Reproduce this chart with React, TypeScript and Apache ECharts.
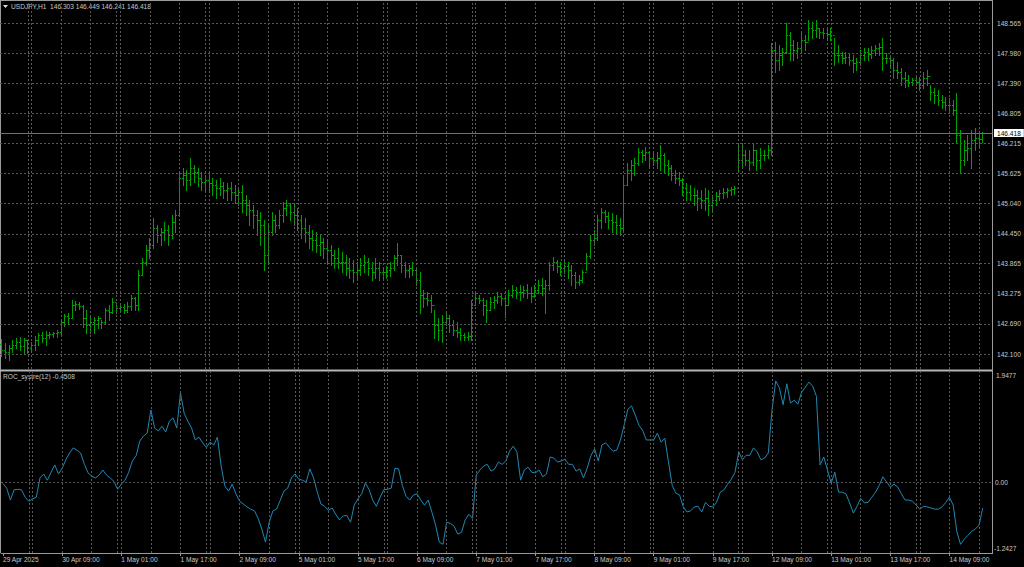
import React, { useEffect, useRef } from "react";
import * as echarts from "echarts";

// ---- data ----
const symbolTitle = "USDJPY,H1";
const indicatorTitle = "ROC_systre(12)";
const tickLabels = [
  "29 Apr 2025", "30 Apr 09:00", "1 May 01:00", "1 May 17:00", "2 May 09:00", "5 May 01:00",
  "5 May 17:00", "6 May 09:00", "7 May 01:00", "7 May 17:00", "8 May 09:00", "9 May 01:00",
  "9 May 17:00", "12 May 09:00", "13 May 01:00", "13 May 17:00", "14 May 09:00",
];
const barsPerLabel = 16;
const totalSlots = 268;
const priceTicks = [148.565, 147.98, 147.39, 146.805, 146.215, 145.625, 145.04, 144.45, 143.865, 143.275, 142.69, 142.1];
const priceRange = [141.807, 148.981];
const rocRange = [-1.2427, 1.9477];
const vGridBars = [7, 8, 16, 24, 31, 32, 40, 48, 55, 56, 64, 72, 79, 80, 88, 96, 103, 104, 112, 120, 127, 128, 136, 144, 151, 152, 160, 168, 175, 176, 184, 192, 199, 200, 208, 216, 223, 224, 232, 240, 247, 248, 256, 264];
const firstOpen = 142.3;

const highs = [
  142.39, 142.31, 142.28, 142.37, 142.41, 142.43, 142.41, 142.37, 142.33, 142.45,
  142.51, 142.53, 142.55, 142.53, 142.53, 142.57, 142.76, 142.88, 142.9, 143.16,
  143.14, 143.12, 143.06, 142.96, 142.86, 142.82, 142.84, 142.76, 143.0, 143.06,
  143.19, 143.06, 143.1, 143.08, 143.12, 143.25, 143.21, 143.74, 143.98, 144.23,
  144.37, 144.76, 144.62, 144.56, 144.68, 144.62, 144.82, 144.92, 145.66, 145.74,
  145.7, 145.93, 145.79, 145.74, 145.66, 145.6, 145.66, 145.54, 145.5, 145.54,
  145.46, 145.44, 145.46, 145.4, 145.35, 145.4, 145.21, 145.11, 145.01, 144.92,
  144.88, 144.72, 144.62, 144.88, 144.82, 144.92, 145.07, 145.11, 145.05, 145.01,
  144.95, 144.82, 144.76, 144.62, 144.52, 144.48, 144.43, 144.37, 144.33, 144.23,
  144.13, 144.17, 144.09, 144.04, 143.98, 143.94, 143.9, 143.98, 144.04, 143.98,
  143.9, 143.98, 143.9, 143.78, 143.82, 143.9, 144.04, 144.27, 144.04, 143.9,
  143.84, 143.9, 143.78, 143.7, 143.35, 143.31, 143.25, 142.96, 142.8, 142.86,
  142.92, 142.86, 142.76, 142.73, 142.61, 142.51, 142.53, 143.16, 143.29, 143.25,
  143.19, 143.16, 143.21, 143.23, 143.31, 143.29, 143.25, 143.35, 143.45, 143.41,
  143.45, 143.43, 143.47, 143.41, 143.45, 143.55, 143.59, 143.55, 143.9, 144.0,
  143.94, 143.9, 143.94, 143.9, 143.84, 143.7, 143.64, 143.74, 144.07, 144.43,
  144.52, 144.82, 144.95, 144.92, 144.88, 144.86, 144.82, 144.76, 145.56, 145.83,
  145.89, 145.93, 146.13, 146.09, 146.15, 146.05, 146.03, 146.05, 146.19, 146.03,
  145.89, 145.79, 145.7, 145.66, 145.54, 145.44, 145.4, 145.35, 145.31, 145.31,
  145.35, 145.31, 145.21, 145.27, 145.31, 145.35, 145.35, 145.36, 145.38, 146.22,
  146.19, 146.09, 146.09, 146.22, 146.09, 146.13, 146.09, 146.19, 148.18, 148.2,
  148.14, 148.08, 148.57, 148.39, 148.24, 148.2, 148.38, 148.34, 148.63, 148.59,
  148.63, 148.47, 148.47, 148.47, 148.47, 148.28, 148.14, 148.0, 148.0, 147.98,
  147.95, 147.89, 148.04, 148.08, 148.08, 148.12, 148.14, 148.18, 148.28, 147.98,
  147.95, 147.89, 147.81, 147.69, 147.61, 147.55, 147.5, 147.52, 147.52, 147.61,
  147.65, 147.36, 147.3, 147.26, 147.16, 147.12, 147.1, 147.07, 147.2, 146.48,
  146.28, 146.38, 146.48, 146.52, 146.44, 146.449,
];
const lows = [
  142.06, 142.02, 141.98, 142.14, 142.22, 142.18, 142.12, 142.12, 142.14, 142.18,
  142.28, 142.33, 142.28, 142.41, 142.43, 142.43, 142.47, 142.65, 142.71, 142.8,
  142.96, 142.98, 142.63, 142.51, 142.51, 142.51, 142.61, 142.61, 142.71, 142.76,
  142.9, 142.9, 142.92, 142.9, 142.92, 142.96, 142.96, 142.96, 143.64, 143.84,
  143.98, 144.17, 144.29, 144.23, 144.33, 144.23, 144.37, 144.48, 144.82, 145.4,
  145.31, 145.4, 145.46, 145.38, 145.31, 145.27, 145.31, 145.21, 145.15, 145.21,
  145.15, 145.11, 145.11, 145.05, 145.01, 144.88, 144.82, 144.62, 144.56, 144.43,
  144.23, 143.74, 143.9, 144.43, 144.48, 144.56, 144.68, 144.82, 144.72, 144.62,
  144.52, 144.37, 144.29, 144.17, 144.13, 144.09, 144.04, 143.98, 143.9, 143.84,
  143.78, 143.78, 143.7, 143.64, 143.59, 143.51, 143.55, 143.64, 143.7, 143.64,
  143.55, 143.59, 143.55, 143.55, 143.59, 143.62, 143.74, 143.84, 143.7, 143.61,
  143.61, 143.64, 143.45, 142.9, 143.02, 143.06, 142.92, 142.41, 142.37, 142.33,
  142.67, 142.53, 142.47, 142.43, 142.37, 142.37, 142.37, 142.37, 143.06, 143.1,
  142.86, 142.73, 142.96, 143.0, 143.1, 143.06, 142.82, 143.06, 143.21, 143.19,
  143.16, 143.21, 143.19, 143.12, 143.21, 143.29, 143.25, 142.9, 143.35, 143.74,
  143.7, 143.64, 143.68, 143.59, 143.45, 143.39, 143.45, 143.51, 143.74, 143.98,
  144.23, 144.33, 144.56, 144.68, 144.56, 144.48, 144.45, 144.43, 144.52, 145.4,
  145.5, 145.6, 145.79, 145.85, 145.89, 145.76, 145.79, 145.74, 145.7, 145.66,
  145.6, 145.5, 145.44, 145.4, 145.21, 145.11, 145.11, 145.01, 144.92, 144.95,
  144.92, 144.82, 144.92, 145.01, 145.11, 145.15, 145.17, 145.21, 145.23, 145.7,
  145.74, 145.79, 145.7, 145.79, 145.7, 145.74, 145.89, 145.93, 145.99, 147.61,
  147.65, 147.75, 147.98, 147.85, 147.85, 147.89, 147.98, 148.04, 148.24, 148.28,
  148.3, 148.28, 148.28, 148.28, 148.24, 147.75, 147.81, 147.79, 147.79, 147.75,
  147.61, 147.65, 147.75, 147.85, 147.85, 147.89, 147.95, 147.95, 147.65, 147.79,
  147.73, 147.5, 147.5, 147.36, 147.32, 147.34, 147.36, 147.36, 147.26, 147.3,
  147.36, 147.07, 147.01, 146.97, 146.91, 146.87, 146.83, 146.77, 146.24, 145.64,
  145.79, 145.89, 145.74, 146.09, 146.13, 146.241,
];
const closes = [
  142.18, 142.14, 142.22, 142.28, 142.33, 142.26, 142.37, 142.22, 142.28, 142.37,
  142.47, 142.41, 142.47, 142.49, 142.51, 142.53, 142.73, 142.84, 142.8, 143.06,
  143.08, 143.04, 142.8, 142.67, 142.73, 142.76, 142.8, 142.73, 142.96, 142.92,
  143.12, 143.0, 143.02, 142.96, 143.04, 143.19, 143.06, 143.64, 143.9, 144.13,
  144.23, 144.56, 144.43, 144.48, 144.52, 144.43, 144.68, 144.82, 145.54, 145.6,
  145.5, 145.74, 145.66, 145.54, 145.46, 145.5, 145.44, 145.4, 145.35, 145.38,
  145.31, 145.35, 145.27, 145.21, 145.27, 145.11, 145.01, 144.92, 144.82, 144.72,
  144.62, 144.04, 144.48, 144.72, 144.62, 144.82, 144.95, 145.01, 144.88, 144.82,
  144.72, 144.56, 144.48, 144.37, 144.33, 144.23, 144.29, 144.17, 144.13, 144.04,
  143.98, 143.9, 143.9, 143.78, 143.74, 143.7, 143.74, 143.84, 143.9, 143.78,
  143.7, 143.78, 143.7, 143.7, 143.74, 143.78, 143.98, 144.04, 143.84, 143.74,
  143.78, 143.74, 143.55, 143.25, 143.19, 143.16, 143.06, 142.67, 142.57, 142.73,
  142.8, 142.67, 142.57, 142.53, 142.47, 142.43, 142.45, 143.06, 143.19, 143.16,
  143.06, 142.96, 143.12, 143.16, 143.23, 143.19, 143.06, 143.25, 143.35, 143.31,
  143.31, 143.35, 143.29, 143.23, 143.35, 143.45, 143.39, 143.45, 143.84, 143.9,
  143.82, 143.78, 143.82, 143.74, 143.64, 143.51, 143.55, 143.7, 144.02, 144.33,
  144.37, 144.72, 144.88, 144.8, 144.72, 144.68, 144.62, 144.56, 145.4, 145.7,
  145.79, 145.83, 146.05, 145.99, 146.05, 145.93, 145.89, 145.93, 145.99, 145.79,
  145.74, 145.6, 145.54, 145.5, 145.35, 145.27, 145.21, 145.21, 145.15, 145.11,
  145.15, 145.01, 145.11, 145.19, 145.25, 145.27, 145.31, 145.33, 145.35, 145.89,
  145.99, 145.89, 145.85, 146.09, 145.89, 145.99, 145.99, 146.09, 148.04, 147.85,
  147.95, 148.0, 148.34, 148.14, 148.04, 148.08, 148.24, 148.2, 148.47, 148.43,
  148.47, 148.39, 148.38, 148.36, 148.34, 147.95, 147.95, 147.89, 147.91, 147.85,
  147.79, 147.81, 147.95, 148.0, 147.96, 148.04, 148.08, 148.1, 147.89, 147.89,
  147.85, 147.65, 147.61, 147.5, 147.46, 147.42, 147.46, 147.42, 147.36, 147.5,
  147.53, 147.22, 147.16, 147.07, 147.03, 146.97, 146.97, 146.87, 146.38, 145.89,
  146.09, 146.13, 146.28, 146.32, 146.303, 146.418,
];
const rocValues = [
  -0.02, -0.1, -0.31, -0.13, -0.12, -0.13, -0.26, -0.33, -0.29, -0.26,
  0.08, 0.15, 0.04, 0.18, 0.31, 0.15, 0.25, 0.4, 0.52, 0.61,
  0.57, 0.52, 0.32, 0.17, 0.11, 0.08, 0.13, 0.22, 0.13, 0.08,
  0.02, -0.12, -0.03, 0.04, 0.18, 0.38, 0.47, 0.73, 0.82, 0.87,
  1.28, 0.96, 0.91, 0.99, 0.89, 1.08, 1.14, 0.96, 1.58, 1.22,
  1.08, 0.96, 0.75, 0.8, 0.7, 0.62, 0.71, 0.66, 0.8, 0.29,
  -0.06, -0.15, -0.03, -0.2, -0.33, -0.38, -0.43, -0.47, -0.5, -0.63,
  -0.82, -1.05, -0.7, -0.5, -0.47, -0.31, -0.15, -0.1, 0.08, 0.15,
  0.06, 0.04, 0.01, 0.24, 0.08, -0.17, -0.38, -0.42, -0.49, -0.45,
  -0.56, -0.66, -0.59, -0.58, -0.7, -0.4, -0.29, -0.2, -0.01, -0.12,
  -0.31, -0.42, -0.26, -0.13, -0.12, -0.1, 0.25, 0.24, -0.05, -0.24,
  -0.31, -0.22, -0.2, -0.31, -0.4, -0.31, -0.52, -0.75, -1.05, -1.09,
  -0.7, -0.72, -0.77, -0.91, -0.88, -0.66, -0.56, -0.63, 0.13, 0.22,
  0.29, 0.32, 0.2, 0.24, 0.36, 0.32, 0.38, 0.55, 0.64, 0.54,
  0.04, 0.22, 0.27, 0.18, 0.17, 0.22, 0.1, 0.15, 0.45, 0.43,
  0.36, 0.38, 0.41, 0.32, 0.32, 0.2, 0.24, 0.08, 0.25, 0.47,
  0.59, 0.38, 0.66, 0.7, 0.62, 0.55, 0.57, 0.75, 1.01, 1.29,
  1.35, 1.19, 1.01, 0.92, 0.75, 0.75, 0.75, 0.87, 0.71, 0.78,
  0.36, -0.05, -0.19, -0.22, -0.43, -0.52, -0.5, -0.43, -0.42, -0.52,
  -0.35, -0.42, -0.43, -0.35, -0.17, -0.13, -0.03, 0.06, 0.18, 0.54,
  0.4, 0.48, 0.48, 0.61, 0.54, 0.4, 0.43, 0.52, 1.28, 1.79,
  1.67, 1.37, 1.74, 1.4, 1.45, 1.38, 1.59, 1.68, 1.77, 1.7,
  1.52, 0.31, 0.45, 0.22, -0.01, 0.18, -0.17, -0.17, -0.2, -0.36,
  -0.54, -0.42, -0.28, -0.36, -0.35, -0.26, -0.17, -0.05, 0.1, 0.01,
  -0.08, -0.03, -0.08, -0.2, -0.31, -0.31, -0.33, -0.4, -0.47, -0.42,
  -0.43, -0.45, -0.47, -0.47, -0.43, -0.35, -0.26, -0.4, -0.87, -1.09,
  -1.0, -0.93, -0.86, -0.82, -0.75, -0.4508,
];

// ---- styling ----
const FONT = "Liberation Sans";
const FS = 6.6;
const TEXT = "#c8c8c8";
const GRID = "#5a5a5a";
const FRAME = "#9a9a9a";
const BAR = "#00a000";
const ROC = "#1f88b4";

export default function App() {
  const ref = useRef<HTMLDivElement>(null);
  useEffect(() => {
    if (!ref.current) return;
    const chart = echarts.init(ref.current, null, { renderer: "svg" });
    const categories = Array.from({ length: totalSlots }, (_, i) => String(i));
    const opens = closes.map((_, i) => (i === 0 ? firstOpen : closes[i - 1]));
    const ohlc = closes.map((c, i) => [i, opens[i], highs[i], lows[i], c]);
    const last = closes.length - 1;
    const lastRoc = rocValues[rocValues.length - 1];
    const isLabel = (i: number) => i % barsPerLabel === 0 && i / barsPerLabel < tickLabels.length;
    const gridStyle = { color: GRID, type: [2, 2] as any, width: 1 };
    const vLines = vGridBars.map((b) => ({ xAxis: b, lineStyle: gridStyle }));

    const option: any = {
      animation: false,
      backgroundColor: "#000",
      textStyle: { fontFamily: FONT },
      grid: [
        { left: 0, top: 2, width: 992, height: 367 },
        { left: 0, top: 372, width: 992, height: 181 },
      ],
      xAxis: [
        { type: "category", gridIndex: 0, data: categories, show: false, axisLine: { onZero: false } },
        {
          type: "category", gridIndex: 1, data: categories,
          axisLine: { show: true, onZero: false, lineStyle: { color: FRAME } },
          axisTick: { show: true, alignWithLabel: true, interval: (i: number) => isLabel(i), length: 3, lineStyle: { color: FRAME } },
          axisLabel: {
            interval: (i: number) => isLabel(i),
            formatter: (_v: string, i: number) => (isLabel(i) ? tickLabels[i / barsPerLabel] : ""),
            align: "left", margin: 3, color: TEXT, fontSize: FS, fontFamily: FONT,
          },
          splitLine: { show: false },
        },
      ],
      yAxis: [
        {
          type: "value", gridIndex: 0, position: "right", min: priceRange[0], max: priceRange[1],
          axisLine: { show: false }, axisTick: { show: false }, axisLabel: { show: false }, splitLine: { show: false },
        },
        {
          type: "value", gridIndex: 1, position: "right", min: rocRange[0], max: rocRange[1],
          axisLine: { show: false }, axisTick: { show: false }, axisLabel: { show: false }, splitLine: { show: false },
        },
      ],
      series: [
        {
          type: "line", xAxisIndex: 0, yAxisIndex: 0, data: categories.map(() => null), z: 1, silent: true, symbol: "none",
          markLine: {
            silent: true, symbol: ["none", "none"], animation: false,
            label: { show: false }, lineStyle: gridStyle,
            emphasis: { disabled: true },
            data: [
              ...vLines,
              ...priceTicks.map((p) => ({
                yAxis: p,
                lineStyle: gridStyle,
                label: { show: true, position: "end", distance: 5, formatter: p.toFixed(3), color: TEXT, fontSize: FS, fontFamily: FONT },
              })),
            ],
          },
        },
        {
          type: "custom", xAxisIndex: 0, yAxisIndex: 0, z: 3, data: ohlc,
          encode: { x: 0, y: [1, 2, 3, 4] },
          renderItem: (_p: any, api: any) => {
            const i = api.value(0);
            const x = Math.floor(api.coord([i, api.value(2)])[0]) + 0.5;
            const yH = Math.round(api.coord([i, api.value(2)])[1]);
            const yL = Math.round(api.coord([i, api.value(3)])[1]);
            const yO = Math.round(api.coord([i, api.value(1)])[1]) + 0.5;
            const yC = Math.round(api.coord([i, api.value(4)])[1]) + 0.5;
            const st = { stroke: BAR, lineWidth: 1 };
            return {
              type: "group",
              children: [
                { type: "line", shape: { x1: x, y1: yH, x2: x, y2: yL + 1 }, style: st },
                { type: "line", shape: { x1: x - 1.5, y1: yO, x2: x, y2: yO }, style: st },
                { type: "line", shape: { x1: x, y1: yC, x2: x + 1.5, y2: yC }, style: st },
              ],
            };
          },
          markLine: {
            silent: true, symbol: ["none", "none"], animation: false,
            emphasis: { disabled: true },
            lineStyle: { color: "#6e6e6e", type: "solid", width: 1 },
            data: [
              {
                yAxis: closes[last],
                lineStyle: { color: "#6e6e6e", type: "solid", width: 1 },
                label: {
                  show: true, position: "end", distance: 2, formatter: closes[last].toFixed(3),
                  backgroundColor: "#ffffff", color: "#000", padding: [1, 3, 0, 3], fontSize: FS, fontFamily: FONT,
                },
              },
            ],
          },
        },
        {
          type: "line", xAxisIndex: 1, yAxisIndex: 1, data: categories.map(() => null), z: 1, silent: true, symbol: "none",
          markLine: {
            silent: true, symbol: ["none", "none"], animation: false,
            label: { show: false }, lineStyle: gridStyle,
            emphasis: { disabled: true },
            data: [
              ...vLines,
              {
                yAxis: 0,
                lineStyle: gridStyle,
                label: { show: true, position: "end", distance: 3, formatter: "0.00", color: TEXT, fontSize: FS, fontFamily: FONT },
              },
            ],
          },
        },
        {
          type: "line", xAxisIndex: 1, yAxisIndex: 1, z: 3, data: rocValues, symbol: "none",
          lineStyle: { color: ROC, width: 1 }, silent: true,
        },
      ],
      graphic: [
        { type: "line", shape: { x1: 0, y1: 0.5, x2: 992, y2: 0.5 }, style: { stroke: FRAME, lineWidth: 1 }, silent: true },
        { type: "line", shape: { x1: 0.5, y1: 0, x2: 0.5, y2: 553 }, style: { stroke: FRAME, lineWidth: 1 }, silent: true },
        { type: "line", shape: { x1: 992.5, y1: 0, x2: 992.5, y2: 554 }, style: { stroke: FRAME, lineWidth: 1 }, silent: true },
        { type: "line", shape: { x1: 0, y1: 370.5, x2: 992, y2: 370.5 }, style: { stroke: "#b4b4b4", lineWidth: 2 }, silent: true },
        { type: "polygon", shape: { points: [[3, 5], [8, 5], [5.5, 8]] }, style: { fill: "#e0e0e0" }, silent: true },
        {
          type: "text", left: 11, top: 3, silent: true,
          style: {
            text: `${symbolTitle}  ${opens[last].toFixed(3)} ${highs[last].toFixed(3)} ${lows[last].toFixed(3)} ${closes[last].toFixed(3)}`,
            fill: TEXT, fontSize: FS, fontFamily: FONT,
          },
        },
        {
          type: "text", left: 3, top: 373, silent: true,
          style: { text: `${indicatorTitle} ${lastRoc.toFixed(4)}`, fill: TEXT, fontSize: FS, fontFamily: FONT },
        },
        {
          type: "text", left: 996, top: 372, silent: true,
          style: { text: rocRange[1].toFixed(4), fill: TEXT, fontSize: FS, fontFamily: FONT },
        },
        {
          type: "text", left: 994, top: 545, silent: true,
          style: { text: rocRange[0].toFixed(4), fill: TEXT, fontSize: FS, fontFamily: FONT },
        },
      ],
    };
    chart.setOption(option);
    return () => chart.dispose();
  }, []);
  return (
    <div
      ref={ref}
      style={{ position: "fixed", left: 0, top: 0, width: 1024, height: 567, background: "#000" }}
    />
  );
}
